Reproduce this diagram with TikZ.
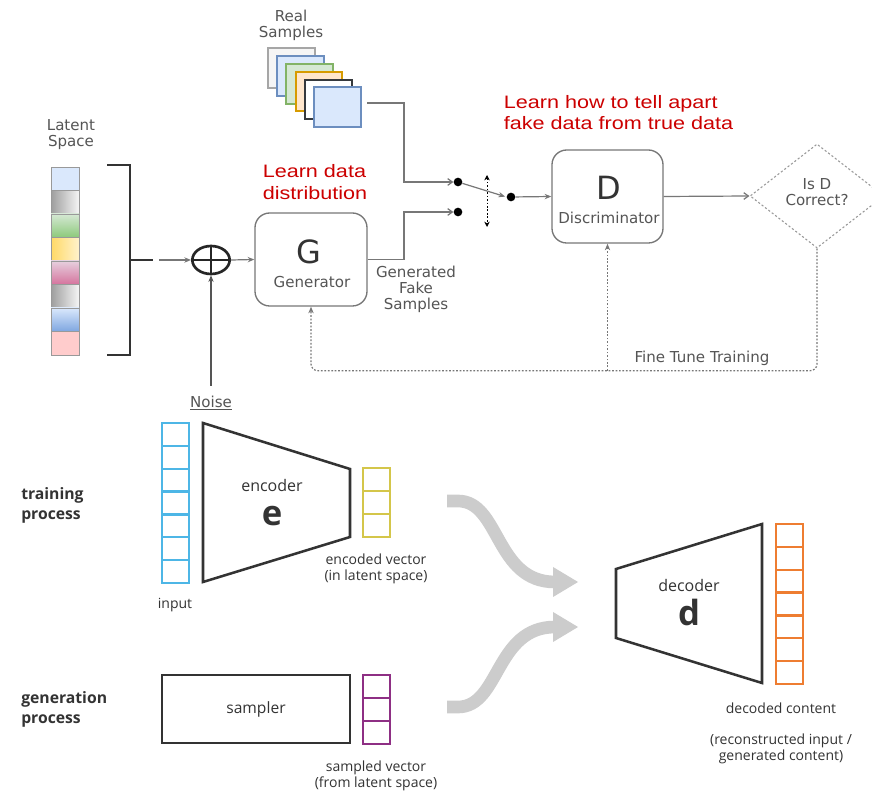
\documentclass[tikz,border=0pt]{standalone}
\usepackage{fontspec}
\setmainfont{DejaVu Sans}
\newfontfamily\redf[FakeStretch=1.2]{Liberation Sans}
\newfontfamily\osf{Open Sans}
\usetikzlibrary{arrows.meta,shapes.geometric,calc}
\newcommand\myfs[2]{\fontsize{#1}{#2}\selectfont}
\definecolor{tg}{HTML}{555555}
\definecolor{lg}{HTML}{777777}
\definecolor{dk}{HTML}{333333}
\definecolor{redt}{HTML}{CC0000}
\definecolor{inblue}{HTML}{4DB6E6}
\definecolor{encyel}{HTML}{D4C64A}
\definecolor{smppur}{HTML}{8E2F84}
\definecolor{decor}{HTML}{EE7D31}
\definecolor{arrg}{HTML}{CCCCCC}
\definecolor{bluB}{HTML}{6C8EBF}
\definecolor{bluF}{HTML}{DAE8FC}
\definecolor{bluD}{HTML}{7EA6E0}
\definecolor{grnB}{HTML}{82B366}
\definecolor{grnF}{HTML}{D5E8D4}
\definecolor{grnD}{HTML}{8CC97A}
\definecolor{orgB}{HTML}{D79B00}
\definecolor{orgF}{HTML}{FFE6CC}
\definecolor{drkB}{HTML}{36393D}
\definecolor{yelD}{HTML}{FFD966}
\definecolor{yelF}{HTML}{FFF2CC}
\definecolor{pnkF}{HTML}{E6D0DE}
\definecolor{pnkD}{HTML}{D5739D}
\definecolor{rosF}{HTML}{FFCCCC}
\tikzset{
  ttxt/.style={text=tg, font=\myfs{11.3pt}{12pt}, align=center, inner sep=0pt},
  btxt/.style={text=dk, font=\osf\myfs{10.5pt}{12pt}, align=center, inner sep=0pt},
  redtxt/.style={text=redt, font=\redf\myfs{13.5pt}{16pt}, align=left, inner sep=0pt},
  box/.style={draw=lg, line width=1pt, rounded corners=11pt, fill=white},
  conn/.style={draw=lg, line width=0.9pt},
  fb/.style={draw=lg, line width=0.9pt, dash pattern=on 1.3pt off 1.3pt},
  stl/.style={-{Stealth[length=5pt,width=4pt]}},
  barb/.style={-{Straight Barb[length=3.5pt,width=5pt]}},
  sw/.style={circle, fill=black, minimum size=6.5pt, inner sep=0pt},
  cell/.style={draw=#1, line width=1.8pt},
  lat/.style={draw=gray!80, line width=0.7pt},
  thk/.style={draw=arrg, line width=9.5pt},
  trap/.style={draw=dk, line width=1.9pt, line join=miter},
}
\begin{document}
\begin{tikzpicture}[x=0.75pt,y=-0.75pt]
\useasboundingbox (0,0) rectangle (872,791);
\clip (0,0) rectangle (872,791);
\fill[white] (0,0) rectangle (872,791);

% ---------- Real samples ----------
\node[ttxt] (rstxt) at (291,25) {Real\\Samples};
\draw[draw=gray!70, fill=black!4, line width=0.9pt] (268,48) rectangle (315,88);
\draw[draw=bluB, fill=bluF, line width=0.9pt] (277,56) rectangle (324,96);
\draw[draw=grnB, fill=grnF, line width=0.9pt] (286,64) rectangle (333,104);
\draw[draw=orgB, fill=orgF, line width=0.9pt] (296,72) rectangle (342,111);
\draw[draw=drkB, fill=white, line width=0.9pt] (305,80) rectangle (352,119);
\node[draw=bluB, fill=bluF, line width=0.9pt, minimum width=35.25pt, minimum height=30pt, inner sep=0pt] (rs) at (337.5,107) {};
\coordinate (rsout) at (367,103);

% ---------- Latent space ----------
\node[ttxt] (lstxt) at (71,135) {Latent\\Space};
\path[lat, fill=bluF] (51,167) rectangle (79,190.5);
\path[lat, left color=black!38, right color=black!4] (51,190.5) rectangle (79,214);
\path[lat, top color=grnF, bottom color=grnD] (51,214) rectangle (79,237.5);
\path[lat, left color=yelD, right color=yelF] (51,237.5) rectangle (79,261);
\path[lat, top color=pnkF, bottom color=pnkD] (51,261) rectangle (79,284.5);
\path[lat, left color=black!38, right color=black!4] (51,284.5) rectangle (79,308);
\path[lat, top color=bluF, bottom color=bluD] (51,308) rectangle (79,331.5);
\path[lat, fill=rosF] (51,331.5) rectangle (79,355);
\draw[dk, line width=1.6pt] (107,165) -- (130,165) -- (130,355) -- (107,355);
\draw[dk, line width=1.6pt] (130,260) -- (153,260);
\coordinate (lsout) at (159,260);

% ---------- Oplus ----------
\node[ellipse, draw=black!85, line width=2pt, minimum width=28pt, minimum height=21pt, inner sep=0pt] (op) at (211,260) {};
\draw[black!85, line width=2pt] (op.north) -- (op.south) (op.west) -- (op.east);
\draw[conn, stl] (lsout) -- (op.west);
\node[ttxt] (noise) at (211,403) {\underline{Noise}};
\coordinate (nstart) at (211,386);
\draw[conn, stl, draw=tg] (nstart) -- (op.south);

% ---------- Generator ----------
\node[box, minimum width=84pt, minimum height=69.75pt] (G) at (311,259.5) {};
\node[ttxt, font=\myfs{24pt}{26pt}, text=dk] (Gl) at (309,252) {G};
\node[ttxt] (Gt) at (312,282) {Generator};
\draw[conn, stl] (op.east) -- (G.west);
\node[redtxt] (rd1) at (315,182) {Learn data\\distribution};
\node[ttxt] (gfs) at (416,289) {Generated\\Fake\\Samples};

% ---------- Switch ----------
\node[sw] (s1) at (458,182) {};
\node[sw] (s2) at (458,212) {};
\node[sw] (s3) at (511,197) {};
\draw[conn, barb] (rsout) -- (404,103) -- (404,182) -- (s1.west);
\draw[conn, barb] (G.east) -- (404,259.5) -- (404,212) -- (s2.west);
\draw[conn, stl, shorten >=1pt] (s1) -- (s3.west);
\coordinate (swt) at (487,175);
\coordinate (swb) at (487,227);
\draw[line width=0.7pt, dash pattern=on 1.3pt off 1.3pt, {Stealth[length=4pt,width=4pt]}-{Stealth[length=4pt,width=4pt]}] (swt) -- (swb);

% ---------- Discriminator ----------
\node[box, minimum width=83.25pt, minimum height=69.75pt] (D) at (607.5,196.5) {};
\node[ttxt, font=\myfs{24pt}{26pt}, text=dk] (Dl) at (609,188) {D};
\node[ttxt] (Dt) at (609,218) {Discriminator};
\draw[conn, stl] (s3) -- (D.west);
\node[redtxt] (rd2) at (618.5,112.5) {Learn how to tell apart\\fake data from true data};

% ---------- Diamond ----------
\node[diamond, draw=gray!80, line width=0.8pt, dash pattern=on 1.6pt off 1.6pt, aspect=1.29, minimum width=100.5pt, minimum height=78pt, inner sep=0pt] (dia) at (817,196) {};
\node[ttxt] (diat) at (817,192) {Is D\\Correct?};
\draw[conn, barb] (D.east) -- (dia.west);

% ---------- Feedback ----------
\path (G.south) ++(0,64) coordinate (fbl);
\draw[fb, stl] (dia.south) [rounded corners=5pt] |- (fbl) [sharp corners] -- (G.south);
\draw[fb, stl] (D.south |- fbl) -- (D.south);
\node[ttxt] (ftt) at (702,358) {Fine Tune Training};

% ---------- Bottom: autoencoder ----------
\node[btxt, font=\osf\bfseries\myfs{11.8pt}{15pt}, align=left, anchor=west] (tp) at (21,505) {training\\process};
\node[btxt, font=\osf\bfseries\myfs{11.8pt}{15pt}, align=left, anchor=west] (gp) at (21,709) {generation\\process};

\foreach \i in {0,...,6} \draw[cell=inblue] (162,423+\i*22.857) rectangle ++(27,22.857);
\node[btxt] (inp) at (175,605) {input};
\draw[trap] (203,423) -- (350,469) -- (350,537) -- (203,582) -- cycle;
\node[btxt, font=\osf\myfs{12pt}{14pt}] (enc) at (272,486) {encoder};
\node[btxt, font=\osf\bfseries\myfs{26pt}{28pt}, anchor=base] (encl) at (272,526) {e};
\foreach \i in {0,...,2} \draw[cell=encyel] (363,468+\i*23) rectangle ++(27,23);
\node[btxt] (ev) at (376,569) {encoded vector\\(in latent space)};

\draw[trap] (162,675) rectangle (350,743);
\node[btxt, font=\osf\myfs{11.7pt}{14pt}] (smp) at (256,709) {sampler};
\foreach \i in {0,...,2} \draw[cell=smppur] (363,675+\i*23) rectangle ++(27,23);
\node[btxt] (sv) at (376,776) {sampled vector\\(from latent space)};

% gray arrows
\draw[thk] (447,501) -- (458,501) .. controls (500,501) and (495,582) .. (555,582);
\fill[arrg] (553,567) -- (578,582) -- (553,597) -- cycle;
\draw[thk] (447,707) -- (458,707) .. controls (500,707) and (495,627) .. (555,627);
\fill[arrg] (553,612) -- (578,627) -- (553,642) -- cycle;

\draw[trap] (616,569) -- (762,524) -- (762,683) -- (616,638) -- cycle;
\node[btxt, font=\osf\myfs{12pt}{14pt}] (dec) at (689,586) {decoder};
\node[btxt, font=\osf\bfseries\myfs{26pt}{28pt}, anchor=base] (decl) at (689,626) {d};
\foreach \i in {0,...,6} \draw[cell=decor] (776,524+\i*22.857) rectangle ++(27,22.857);
\node[btxt] (dc) at (781,708) {decoded content};
\node[btxt] (rc) at (781,749) {(reconstructed input /\\generated content)};
\end{tikzpicture}
\end{document}
